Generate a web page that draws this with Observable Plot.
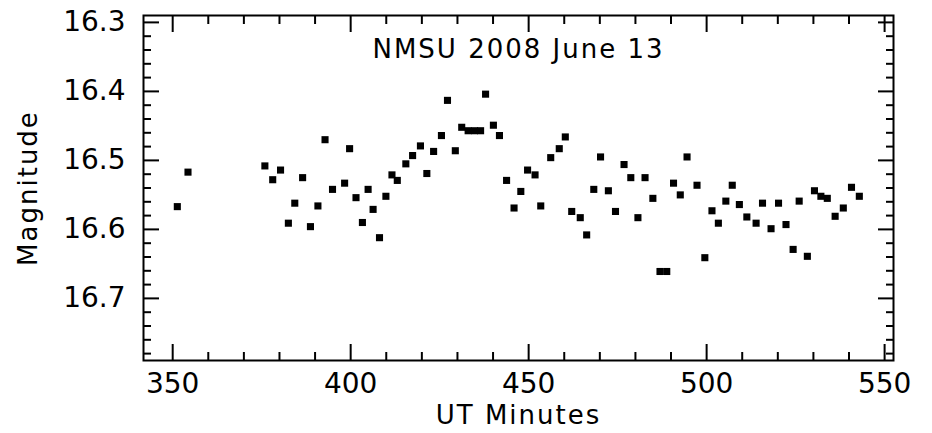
<!DOCTYPE html>
<html><head><meta charset="utf-8">
<script src="https://cdn.jsdelivr.net/npm/d3@7"></script>
<script src="https://cdn.jsdelivr.net/npm/@observablehq/plot@0.6"></script>
<style>
body{margin:0;background:#fff}
svg g[aria-label="text"] text{letter-spacing:2px}
</style>
</head><body><div id="chart"></div>
<script>
const minutes = [351.3,354.3,375.9,378.1,380.3,382.5,384.3,386.5,388.7,390.8,
  392.8,394.9,398.3,399.7,401.5,403.3,404.9,406.3,408.1,409.9,
  411.6,413.1,415.5,417.4,419.6,421.4,423.3,425.5,427.2,429.4,
  431.2,433.0,434.8,436.5,437.9,440.1,441.8,443.8,445.9,447.8,
  449.7,451.8,453.4,456.2,458.6,460.3,462.1,464.5,466.3,468.3,
  470.2,472.4,474.4,476.8,478.7,480.7,482.7,484.9,486.9,488.8,
  490.7,492.6,494.5,497.3,499.5,501.5,503.3,505.4,507.2,509.2,
  511.3,513.9,515.7,518.1,520.2,522.3,524.3,526.0,528.3,530.3,
  532.1,533.9,536.1,538.4,540.7,542.9];
const magnitude = [16.567,16.517,16.508,16.528,16.514,16.591,16.562,16.525,16.596,16.566,
  16.470,16.542,16.533,16.483,16.554,16.590,16.542,16.571,16.612,16.552,
  16.521,16.529,16.505,16.493,16.479,16.519,16.487,16.464,16.413,16.486,
  16.452,16.457,16.457,16.457,16.404,16.449,16.464,16.529,16.569,16.545,
  16.514,16.521,16.566,16.496,16.483,16.466,16.574,16.583,16.608,16.542,
  16.495,16.544,16.574,16.506,16.525,16.583,16.525,16.555,16.661,16.661,
  16.533,16.550,16.495,16.536,16.641,16.573,16.591,16.559,16.536,16.564,
  16.582,16.591,16.562,16.599,16.562,16.593,16.629,16.559,16.639,16.544,
  16.552,16.555,16.581,16.569,16.539,16.552];

const xMajorTicks = [350, 400, 450, 500, 550];
const xMinorTicks = [360,370,380,390,410,420,430,440,460,470,480,490,510,520,530,540];
const yMajorTicks = [16.3, 16.4, 16.5, 16.6, 16.7];
const yMinorTicks = [16.32,16.34,16.36,16.38,16.42,16.44,16.46,16.48,16.52,16.54,16.56,16.58,
  16.62,16.64,16.66,16.68,16.72,16.74,16.76,16.78];
const xDomain = [341.8, 552.5];
const yDomain = [16.29, 16.79];
const title = "NMSU 2008 June 13";
const xLabel = "UT Minutes";
const yLabel = "Magnitude";

const points = minutes.map((m, i) => ({minute: m, mag: magnitude[i]}));

const tickMarks = [];
for (const anchor of ["bottom", "top"]) {
  tickMarks.push(Plot.axisX(xMajorTicks, {anchor, tickSize: -16, fill: "none", label: null, strokeWidth: 2}));
  tickMarks.push(Plot.axisX(xMinorTicks, {anchor, tickSize: -8, fill: "none", label: null, strokeWidth: 2}));
}
for (const anchor of ["left", "right"]) {
  tickMarks.push(Plot.axisY(yMajorTicks, {anchor, tickSize: -16, fill: "none", label: null, strokeWidth: 2}));
  tickMarks.push(Plot.axisY(yMinorTicks, {anchor, tickSize: -8, fill: "none", label: null, strokeWidth: 2}));
}

const chart = Plot.plot({
  width: 932,
  height: 433,
  marginLeft: 143,
  marginRight: 39,
  marginTop: 15,
  marginBottom: 73,
  style: {fontFamily: "DejaVu Sans", fontSize: "28px", background: "#fff", color: "#000"},
  x: {domain: xDomain},
  y: {domain: yDomain, reverse: true},
  marks: [
    ...tickMarks,
    Plot.axisX(xMajorTicks, {anchor: "bottom", tickSize: 0, tickPadding: 13, fontSize: 28, label: null, tickFormat: d => String(d)}),
    Plot.axisY(yMajorTicks, {anchor: "left", tickSize: 0, tickPadding: 18, fontSize: 28, label: null, tickFormat: d => d.toFixed(1)}),
    Plot.frame({strokeWidth: 2}),
    Plot.dot(points, {x: "minute", y: "mag", symbol: "square", r: 4, fill: "#000", stroke: "none"}),
    Plot.text([title], {text: d => d, frameAnchor: "top", dy: 34, textAnchor: "middle", lineAnchor: "middle", fontSize: 26, fill: "#000"}),
    Plot.text([xLabel], {text: d => d, frameAnchor: "bottom", dy: 55, textAnchor: "middle", lineAnchor: "middle", fontSize: 26, fill: "#000"}),
    Plot.text([yLabel], {text: d => d, frameAnchor: "left", dx: -115, rotate: -90, textAnchor: "middle", lineAnchor: "middle", fontSize: 26, fill: "#000"})
  ]
});
document.getElementById("chart").appendChild(chart);
</script>
</body></html>
